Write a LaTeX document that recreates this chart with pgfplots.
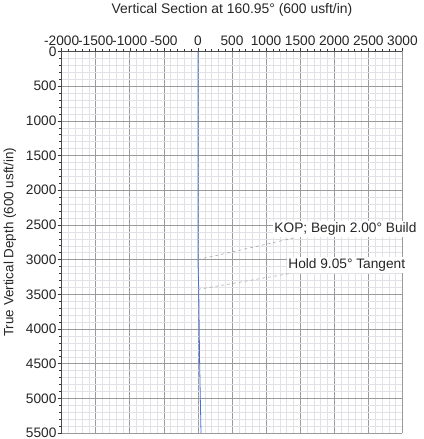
\documentclass[border=0pt]{standalone}
\usepackage{pgfplots}
\pgfplotsset{compat=1.18}
\usepackage{fontspec}
\setmainfont{Liberation Sans}
\definecolor{wellblue}{RGB}{70,110,225}
\definecolor{majgrid}{RGB}{155,155,158}
\definecolor{mingrid}{RGB}{225,225,230}
\begin{document}
\begin{tikzpicture}
\begin{axis}[
  scale only axis, width=343bp, height=384bp,
  xmin=-2000, xmax=3000, ymin=0, ymax=5500,
  y dir=reverse,
  axis x line*=top, axis y line*=left,
  xtick={-2000,-1500,...,3000}, ytick={0,500,...,5500},
  minor x tick num=4, minor y tick num=4,
  grid=both,
  major grid style={majgrid, line width=0.6pt},
  minor grid style={mingrid, line width=0.4pt},
  axis line style={black!70, line width=0.8pt},
  tick style={black!80, line width=0.5pt},
  major tick length=4bp, minor tick length=2.5bp,
  tick align=outside,
  /pgf/number format/assume math mode=true,
  /pgf/number format/1000 sep={},
  ticklabel style={font=\fontsize{13.8bp}{15bp}\selectfont, text=black!85},
  xticklabel style={inner sep=0pt, yshift=2bp},
  yticklabel style={inner sep=1pt},
  title={Vertical Section at 160.95° (600 usft/in)},
  title style={font=\fontsize{14bp}{16bp}\selectfont, text=black!85, at={(axis description cs:0.5,1)}, anchor=center, yshift=36bp},
  ylabel={True Vertical Depth (600 usft/in)},
  ylabel style={font=\fontsize{13.5bp}{15bp}\selectfont, text=black!85, at={(axis description cs:-0.152,0.5)}, anchor=center},
  clip=false,
]
\addplot[wellblue, line width=0.8pt] coordinates {
  (0,0) (0,3000) (5,3200) (12,3450) (25,4500) (45,5500)
};
\draw[black!40, dashed, line width=0.5pt] (axis cs:0,3000) -- (axis cs:1400,2690);
\draw[black!40, dashed, line width=0.5pt] (axis cs:0,3430) -- (axis cs:1350,3200);
\node[anchor=east, fill=white, inner sep=1.5pt, font=\fontsize{13.8bp}{15bp}\selectfont, text=black!85] at (axis cs:3230,2560) {KOP; Begin 2.00° Build};
\node[anchor=east, fill=white, inner sep=1.5pt, font=\fontsize{13.8bp}{15bp}\selectfont, text=black!85] at (axis cs:3065,3080) {Hold 9.05° Tangent};
\end{axis}
\path (current axis.south west) ++(-62bp,-6bp) coordinate (bbA);
\path (current axis.north east) ++(21bp,49bp) coordinate (bbB);
\useasboundingbox (bbA) rectangle (bbB);
\end{tikzpicture}
\end{document}
